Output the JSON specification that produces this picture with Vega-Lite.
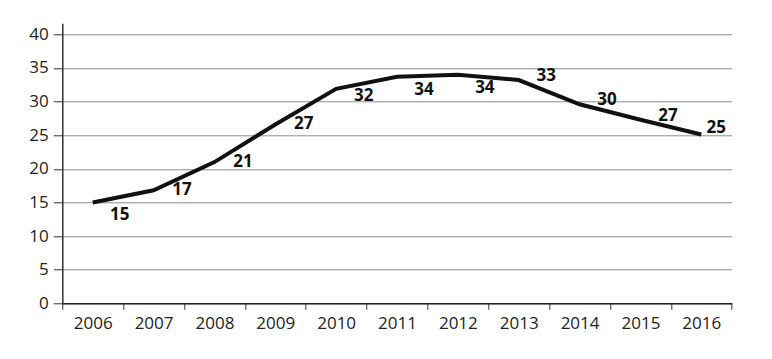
{
  "$schema": "https://vega.github.io/schema/vega-lite/v6.json",
  "autosize": "none",
  "width": 669.4,
  "height": 280,
  "padding": {"left": 62.3, "top": 23.3, "right": 40.3, "bottom": 55.7},
  "background": "white",
  "data": {
    "values": [
      {"year": "2006", "value": 15.0},
      {"year": "2007", "value": 16.8},
      {"year": "2008", "value": 21.0},
      {"year": "2009", "value": 26.6},
      {"year": "2010", "value": 31.9},
      {"year": "2011", "value": 33.7},
      {"year": "2012", "value": 34.0},
      {"year": "2013", "value": 33.2},
      {"year": "2014", "value": 29.6},
      {"year": "2015", "value": 27.3},
      {"year": "2016", "value": 25.1}
    ]
  },
  "config": {
    "view": {"stroke": null},
    "font": "Open Sans"
  },
  "encoding": {
    "x": {
      "field": "year",
      "type": "ordinal",
      "scale": {"type": "band", "paddingInner": 0, "paddingOuter": 0},
      "axis": {
        "title": null,
        "labelAngle": 0,
        "labelFont": "Open Sans",
        "labelFontSize": 17,
        "labelColor": "#222222",
        "labelPadding": 6,
        "tickBand": "extent",
        "tickSize": 6,
        "tickColor": "#333333",
        "domainColor": "#222222",
        "domainWidth": 1.5,
        "grid": false
      }
    },
    "y": {
      "field": "value",
      "type": "quantitative",
      "scale": {"domain": [0, 41.64], "nice": false, "zero": true},
      "axis": {
        "title": null,
        "values": [0, 5, 10, 15, 20, 25, 30, 35, 40],
        "labelFont": "Open Sans",
        "labelFontSize": 17,
        "labelColor": "#222222",
        "labelPadding": 5,
        "tickSize": 9,
        "tickColor": "#333333",
        "domainColor": "#333333",
        "domainWidth": 1.5,
        "grid": true,
        "gridColor": "#8c8c8c",
        "gridWidth": 1
      }
    }
  },
  "layer": [
    {
      "mark": {"type": "line", "color": "#111111", "strokeWidth": 4, "strokeJoin": "miter"}
    },
    {
      "transform": [{"filter": "indexof(['2006','2011','2012'], datum.year) >= 0"}],
      "mark": {"type": "text", "fontWeight": "bold", "fontSize": 17, "font": "Open Sans", "color": "#111111", "dx": 27, "dy": 13, "baseline": "middle", "align": "center"},
      "encoding": {"text": {"field": "value", "type": "quantitative", "format": ".0f"}}
    },
    {
      "transform": [{"filter": "indexof(['2007','2008','2009'], datum.year) >= 0"}],
      "mark": {"type": "text", "fontWeight": "bold", "fontSize": 17, "font": "Open Sans", "color": "#111111", "dx": 28.5, "dy": 0, "baseline": "middle", "align": "center"},
      "encoding": {"text": {"field": "value", "type": "quantitative", "format": ".0f"}}
    },
    {
      "transform": [{"filter": "datum.year == '2010'"}],
      "mark": {"type": "text", "fontWeight": "bold", "fontSize": 17, "font": "Open Sans", "color": "#111111", "dx": 27.5, "dy": 7, "baseline": "middle", "align": "center"},
      "encoding": {"text": {"field": "value", "type": "quantitative", "format": ".0f"}}
    },
    {
      "transform": [{"filter": "indexof(['2013','2014','2015'], datum.year) >= 0"}],
      "mark": {"type": "text", "fontWeight": "bold", "fontSize": 17, "font": "Open Sans", "color": "#111111", "dx": 27.5, "dy": -4, "baseline": "middle", "align": "center"},
      "encoding": {"text": {"field": "value", "type": "quantitative", "format": ".0f"}}
    },
    {
      "transform": [{"filter": "datum.year == '2016'"}],
      "mark": {"type": "text", "fontWeight": "bold", "fontSize": 17, "font": "Open Sans", "color": "#111111", "dx": 15, "dy": -6.5, "baseline": "middle", "align": "center"},
      "encoding": {"text": {"field": "value", "type": "quantitative", "format": ".0f"}}
    }
  ]
}
